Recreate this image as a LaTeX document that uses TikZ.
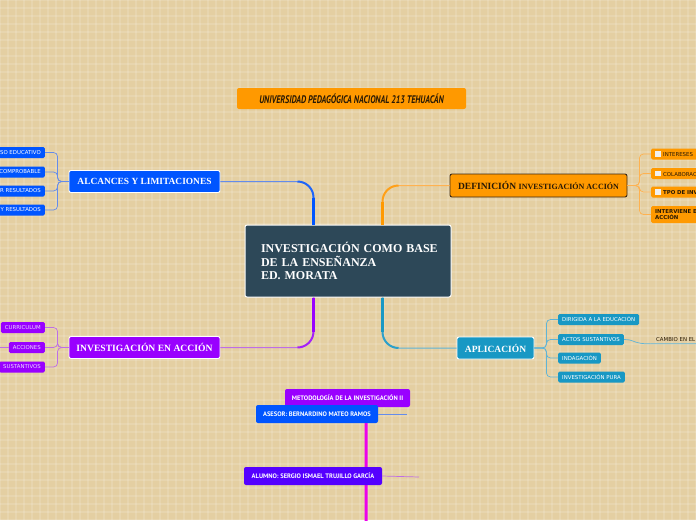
\documentclass[tikz,border=0pt]{standalone}
\usepackage{graphicx}
\usepackage{fontspec}
\setmainfont{Liberation Serif}
\newfontfamily\smallsans{DejaVu Sans}
\newfontfamily\condsans{PT Sans}
\usetikzlibrary{calc}
\definecolor{bgtan}{RGB}{228,207,162}
\definecolor{cblue}{RGB}{0,85,255}
\definecolor{cpurple}{RGB}{153,0,255}
\definecolor{cteal}{RGB}{24,152,196}
\definecolor{corange}{RGB}{255,153,0}
\definecolor{cslate}{RGB}{45,72,88}
\definecolor{cindigo}{RGB}{85,0,255}
\definecolor{cmagenta}{RGB}{235,0,235}
\definecolor{lblue}{RGB}{100,140,235}
\definecolor{lpurple}{RGB}{190,110,230}
\definecolor{lteal}{RGB}{95,180,215}
\definecolor{lorange}{RGB}{255,178,80}
\definecolor{darktxt}{RGB}{40,25,5}
\definecolor{lavtxt}{RGB}{235,215,255}
\tikzset{
  mainbox/.style={rounded corners=2pt, draw=white, line width=0.9pt, text=white, inner sep=0pt, minimum height=22pt},
  leaf/.style={rounded corners=1.5pt, inner ysep=0pt, inner xsep=4pt, minimum height=11pt, font=\smallsans\fontsize{5.4}{6.2}\selectfont},
  botbox/.style={rounded corners=2pt, inner sep=0pt, minimum height=18pt, text=white, font=\condsans\bfseries\fontsize{6.5}{7.5}\selectfont},
  thin/.style={line width=0.7pt},
}
\begin{document}
\begin{tikzpicture}[x=1pt,y=-1pt]
\useasboundingbox (0,0) rectangle (696,520);
\clip (0,0) rectangle (696,520);
\fill[bgtan] (0,0) rectangle (696,520);
\foreach \i in {0,8,...,696} \draw[white, opacity=0.13, line width=2.5pt] (\i,0) -- (\i,520);
\foreach \j in {0,8,...,520} \draw[white, opacity=0.13, line width=2.5pt] (0,\j) -- (696,\j);

% title
\node[fill=corange, rounded corners=2pt, minimum width=229pt, minimum height=21pt, inner sep=0pt, text=darktxt] (title) at (351.5,98.5)
  {\scalebox{0.74}[1]{\condsans\bfseries\itshape\fontsize{11}{12}\selectfont UNIVERSIDAD PEDAGÓGICA NACIONAL 213 TEHUACÁN}};

% central node
\node[mainbox, fill=cslate, line width=1pt, minimum height=72pt, text width=174pt, inner xsep=16pt, align=left,
      font=\bfseries\fontsize{12}{13.5}\selectfont] (ctr) at (348,261)
  {\mbox{INVESTIGACIÓN COMO BASE}\\\mbox{DE LA ENSEÑANZA}\\\mbox{ED. MORATA}};
\coordinate (ctl) at ($(ctr.north west)+(69,0)$);
\coordinate (ctr2) at ($(ctr.north west)+(138,0)$);
\coordinate (cbl) at ($(ctr.south west)+(69,0)$);
\coordinate (cbr) at ($(ctr.south west)+(138,0)$);

% main branches
\node[mainbox, fill=cblue, minimum width=151pt, font=\bfseries\fontsize{9.4}{10}\selectfont] (alc) at (144.5,181.5) {ALCANCES Y LIMITACIONES};
\node[mainbox, fill=corange, draw={rgb,255:red,60;green,40;blue,20}, text=darktxt, minimum width=177pt, minimum height=23pt, font=\bfseries] (def) at (538.5,185.5)
  {{\fontsize{9.5}{10}\selectfont DEFINICIÓN} {\fontsize{8}{9}\selectfont INVESTIGACIÓN ACCIÓN}};
\node[mainbox, fill=cpurple, minimum width=151pt, font=\bfseries\fontsize{9.6}{10}\selectfont] (inv) at (144.5,347.5) {INVESTIGACIÓN EN ACCIÓN};
\node[mainbox, fill=cteal, minimum width=77pt, font=\bfseries\fontsize{9.5}{10}\selectfont] (app) at (495.5,348) {APLICACIÓN};

% tapered connectors center -> branches
\draw[lblue, line width=1pt, rounded corners=16pt] (alc.east) -- (alc.east -| ctl) -- (ctl);
\draw[cblue!70!lblue, line width=2pt, rounded corners=16pt] ($(alc.east -| ctl)+(-16,0)$) -- (alc.east -| ctl) -- (ctl);
\draw[cblue, line width=3pt] ($(alc.east -| ctl)+(0,16)$) -- (ctl);

\draw[lorange, line width=1pt, rounded corners=16pt] (ctr2) -- (ctr2 |- def.west) -- (def.west);
\draw[corange!70!lorange, line width=2pt, rounded corners=16pt] (ctr2) -- (ctr2 |- def.west) -- ($(ctr2 |- def.west)+(16,0)$);
\draw[corange, line width=3pt] (ctr2) -- ($(ctr2 |- def.west)+(0,16)$);

\draw[lpurple, line width=1pt, rounded corners=16pt] (inv.east) -- (inv.east -| cbl) -- (cbl);
\draw[cpurple!70!lpurple, line width=2pt, rounded corners=16pt] ($(inv.east -| cbl)+(-16,0)$) -- (inv.east -| cbl) -- (cbl);
\draw[cpurple, line width=3pt] ($(inv.east -| cbl)+(0,-16)$) -- (cbl);

\draw[lteal, line width=1pt, rounded corners=16pt] (cbr) -- (cbr |- app.west) -- (app.west);
\draw[cteal!70!lteal, line width=2pt, rounded corners=16pt] (cbr) -- (cbr |- app.west) -- ($(cbr |- app.west)+(16,0)$);
\draw[cteal, line width=3pt] (cbr) -- ($(cbr |- app.west)+(0,-16)$);

% ALCANCES leaves
\node[leaf, fill=cblue, text=white, anchor=east] (a1) at (45,152.5) {SO EDUCATIVO};
\node[leaf, fill=cblue, text=white, anchor=east] (a2) at (45,172) {COMPROBABLE};
\node[leaf, fill=cblue, text=white, anchor=east] (a3) at (45,191) {R RESULTADOS};
\node[leaf, fill=cblue, text=white, anchor=east] (a4) at (45,210) {Y RESULTADOS};
\foreach \n in {a1,a2,a3,a4}
  \draw[lblue, thin, rounded corners=4pt] (alc.west) -- ++(-11,0) |- (\n.east);

% INVESTIGACION EN ACCION leaves
\node[leaf, fill=cpurple, text=lavtxt, anchor=east] (i1) at (45,327.5) {CURRICULUM};
\node[leaf, fill=cpurple, text=lavtxt, anchor=east] (i2) at (45,347.5) {ACCIONES};
\node[leaf, fill=cpurple, text=lavtxt, anchor=east] (i3) at (45,367) {SUSTANTIVOS};
\foreach \n in {i1,i2,i3}
  \draw[lpurple, thin, rounded corners=4pt] (inv.west) -- ++(-11,0) |- (\n.east);
\draw[lpurple, thin] (i2.west) -- ++(-12,0);

% DEFINICION leaves
\newcommand{\chk}{{\color{white!88!gray}\rule{5.5pt}{5.5pt}}\hspace{2.5pt}}
\node[leaf, fill=corange, text=darktxt, anchor=west, text width=90pt, align=left] (d1) at (651,154) {\chk INTERESES};
\node[leaf, fill=corange, text=darktxt, anchor=west, text width=90pt, align=left] (d2) at (651,173.5) {\chk COLABORACIÓN};
\node[leaf, fill=corange, text=darktxt, anchor=west, text width=90pt, align=left, font=\smallsans\bfseries\fontsize{5.4}{6.2}\selectfont] (d3) at (651,192) {\chk TPO DE INVESTIGACIÓN};
\node[leaf, fill=corange, text=darktxt, anchor=west, text width=90pt, align=left, minimum height=17pt, font=\smallsans\bfseries\fontsize{5.4}{6.2}\selectfont] (d4) at (651,214.5) {INTERVIENE EN LA\\ACCIÓN};
\foreach \n in {d1,d2,d3,d4}
  \draw[lorange, thin, rounded corners=4pt] (def.east) -- ++(12,0) |- (\n.west);

% APLICACION leaves
\node[leaf, fill=cteal, text=white, anchor=west] (p1) at (558,319.5) {DIRIGIDA A LA EDUCACIÓN};
\node[leaf, fill=cteal, text=white, anchor=west] (p2) at (558,339.5) {ACTOS SUSTANTIVOS};
\node[leaf, fill=cteal, text=white, anchor=west] (p3) at (558,358) {INDAGACIÓN};
\node[leaf, fill=cteal, text=white, anchor=west] (p4) at (558,377) {INVESTIGACIÓN PURA};
\foreach \n in {p1,p2,p3,p4}
  \draw[lteal, thin, rounded corners=4pt] (app.east) -- ++(12,0) |- (\n.west);
\node[anchor=base west, inner sep=2pt, text=darktxt, font=\smallsans\fontsize{5.4}{6.2}\selectfont] (cam) at (654,341.5) {CAMBIO EN EL};
\draw[lteal, thin] (p2.east) .. controls (636,339.5) and (632,344.5) .. (cam.south west) -- ++(60,0);

% bottom
\node[botbox, fill=cpurple, minimum width=125pt] (met) at (347.5,398) {METODOLOGÍA DE LA INVESTIGACIÓN II};
\node[botbox, fill=cblue, minimum width=122pt] (ases) at (317,414) {ASESOR: BERNARDINO MATEO RAMOS};
\coordinate (asend) at (407,414);
\draw[lblue, thin] (ases.east) -- (asend);
\coordinate (mtop) at ($(ases.south east)+(-12,0)$);
\coordinate (mbot) at (366,525);
\draw[cmagenta, line width=3pt] (mtop) -- (mbot);
\node[botbox, fill=cindigo, minimum width=138pt] (alu) at (313,476) {ALUMNO: SERGIO ISMAEL TRUJILLO GARCÍA};
\coordinate (aluend) at (419,477);
\draw[lpurple, thin] (alu.east) -- (aluend);
\end{tikzpicture}
\end{document}
